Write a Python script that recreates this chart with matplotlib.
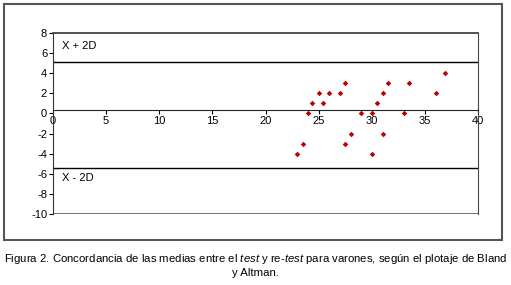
import matplotlib.pyplot as plt
from matplotlib.patches import Rectangle

plt.rcParams['font.family'] = ['Liberation Sans', 'DejaVu Sans']
plt.rcParams['mathtext.fontset'] = 'custom'
plt.rcParams['mathtext.rm'] = 'Liberation Sans'
plt.rcParams['mathtext.it'] = 'Liberation Sans:italic'
plt.rcParams['axes.unicode_minus'] = False

# medias (x) y diferencias (y)
medias = [24, 24.4, 25, 25.4, 26, 27, 27.5, 29, 30, 30.45, 31, 31.5, 33, 33.5, 36, 36.9,
          23, 23.5, 27.5, 28, 30, 31]
difs = [0, 1, 2, 1, 2, 2, 3, 0, 0, 1, 2, 3, 0, 3, 2, 4,
        -4, -3, -3, -2, -4, -2]
lim_sup = 5.05
lim_inf = -5.4
x_ticks = [0, 5, 10, 15, 20, 25, 30, 35, 40]
y_ticks = [8, 6, 4, 2, 0, -2, -4, -6, -8, -10]

fig = plt.figure(figsize=(5.11, 2.85), dpi=100)

# marco exterior
fig.patches.append(Rectangle((4 / 511, 1 - 240 / 285), 498 / 511, 236 / 285,
                             transform=fig.transFigure, fill=False,
                             edgecolor='#555555', lw=1.5))

ax = fig.add_axes([0.1031, 0.248, 0.833, 0.6379])
ax.set_xlim(0, 40)
ax.set_ylim(-10, 8)

ax.scatter(medias, difs, marker='D', s=8, color='#c00000', zorder=3, linewidths=0)

ax.axhline(lim_sup, color='black', lw=1)
ax.axhline(lim_inf, color='black', lw=1)
ax.axhline(-10, color='#666666', lw=2)

ax.text(0.9, 6.65, 'X + 2D', fontsize=8, va='center')
ax.text(0.9, -6.45, 'X - 2D', fontsize=8, va='center')

ax.spines['bottom'].set_position(('data', 0.3))
ax.spines['bottom'].set_color('#222222')
ax.spines['left'].set_color('#333333')
ax.spines['top'].set_color('#444444')
ax.spines['top'].set_linewidth(1.3)
ax.spines['right'].set_color('#444444')

ax.set_xticks(x_ticks)
ax.set_yticks(y_ticks)
ax.tick_params(axis='both', labelsize=8, length=3, width=0.8, pad=1)

fig.text(0.5, 1 - 259 / 285,
         r'Figura 2. Concordancia de las medias entre el $\it{test}$ y re-$\it{test}$'
         ' para varones, según el plotaje de Bland',
         ha='center', va='center', fontsize=8.2)
fig.text(0.5, 1 - 273 / 285, 'y Altman.', ha='center', va='center', fontsize=8.2)

fig.savefig('out.png', dpi=100)
